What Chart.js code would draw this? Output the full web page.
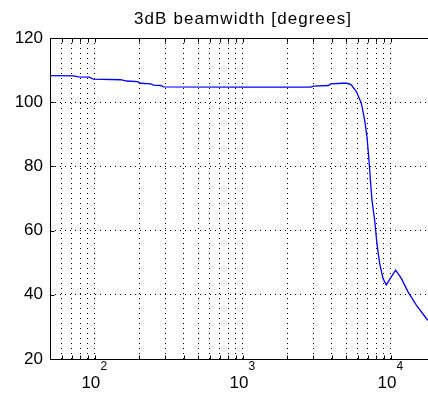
<!DOCTYPE html>
<html>
<head>
<meta charset="utf-8">
<script src="https://cdn.jsdelivr.net/npm/chart.js@4/dist/chart.umd.min.js"></script>
<style>
html,body{margin:0;padding:0;background:#fff;overflow:hidden;}
#wrap{width:428px;height:395px;position:relative;}
</style>
</head>
<body>
<div id="wrap"><canvas id="c"></canvas></div>
<script>
// ---- data ----
const titleText = "3dB beamwidth [degrees]";
const freqHz = [50, 72, 78, 92, 98, 150, 165, 195, 205, 240, 250, 280, 292, 1000, 2900, 3000, 3800, 3950, 4700, 5050, 5400, 5870, 6340, 6670, 6920, 7140, 7300, 7480, 7800, 8080, 8430, 8880, 9350, 9950, 10810, 11810, 13090, 14920, 17400, 17885];
const beamwidthDeg = [108.3, 108.2, 107.9, 107.8, 107.2, 107.0, 106.6, 106.4, 105.9, 105.7, 105.3, 105.2, 104.8, 104.7, 104.7, 105.0, 105.2, 105.7, 105.9, 105.9, 105.5, 103.3, 99.7, 94.5, 89.3, 82.0, 75.8, 69.5, 63.3, 56.0, 49.8, 45.1, 43.1, 45.1, 47.7, 45.1, 41.0, 36.8, 32.7, 32.0];
const xGridTicks = [50, 60, 70, 80, 90, 100, 200, 300, 400, 500, 600, 700, 800, 900, 1000, 2000, 3000, 4000, 5000, 6000, 7000, 8000, 9000, 10000];
const xMajorTicks = [100, 1000, 10000];
const xMajorExponents = ["2", "3", "4"];
const yTicks = [20, 40, 60, 80, 100, 120];
const xMin = 50, xMax = 17885, yMin = 20, yMax = 120;

const FONT = '"Liberation Sans", Arial, Helvetica, sans-serif';

const decor = {
  id: 'decor',
  afterDraw(chart) {
    const ctx = chart.ctx, a = chart.chartArea;
    const xs = chart.scales.x, ys = chart.scales.y;
    ctx.save();
    ctx.strokeStyle = '#000';
    ctx.lineWidth = 1;
    ctx.setLineDash([]);
    const L = Math.round(a.left) + 0.5, T = Math.round(a.top) + 0.5, B = Math.round(a.bottom) + 0.5, R = a.right + 2;
    ctx.beginPath();
    ctx.moveTo(R, T); ctx.lineTo(L, T); ctx.lineTo(L, B); ctx.lineTo(R, B);
    ctx.stroke();
    // inside tick marks
    ctx.beginPath();
    xGridTicks.forEach(v => {
      const px = Math.round(xs.getPixelForValue(v)) + 0.5;
      ctx.moveTo(px, B); ctx.lineTo(px, B - 4);
      ctx.moveTo(px, T); ctx.lineTo(px, T + 4);
    });
    yTicks.forEach(v => {
      const py = Math.round(ys.getPixelForValue(v)) + 0.5;
      ctx.moveTo(L, py); ctx.lineTo(L + 4, py);
    });
    ctx.stroke();
    // x labels 10^n
    ctx.fillStyle = '#000';
    xMajorTicks.forEach((v, i) => {
      const px = xs.getPixelForValue(v);
      ctx.font = '17px ' + FONT;
      ctx.textAlign = 'center';
      ctx.textBaseline = 'alphabetic';
      ctx.fillText('10', px - 3.7, 388);
      ctx.font = '12px ' + FONT;
      ctx.textAlign = 'left';
      ctx.fillText(xMajorExponents[i], px + 6, 370);
    });
    // title
    ctx.font = '17px ' + FONT;
    ctx.textBaseline = 'alphabetic';
    ctx.textAlign = 'left';
    try { ctx.letterSpacing = '1.1px'; } catch (e) {}
    const w = ctx.measureText(titleText).width;
    ctx.fillText(titleText, 242.5 - w / 2 + 0.55, 24);
    ctx.restore();
  }
};

new Chart(document.getElementById('c'), {
  type: 'line',
  data: {
    datasets: [{
      data: freqHz.map((f, i) => ({x: f, y: beamwidthDeg[i]})),
      borderColor: '#0000ff',
      borderWidth: 1.3,
      pointRadius: 0,
      tension: 0,
      fill: false
    }]
  },
  options: {
    responsive: true,
    maintainAspectRatio: false,
    animation: false,
    devicePixelRatio: 1,
    layout: {padding: {top: 38, left: 0, right: 0, bottom: 0}},
    plugins: {legend: {display: false}, title: {display: false}, tooltip: {enabled: false}},
    scales: {
      x: {
        type: 'logarithmic',
        min: xMin, max: xMax,
        afterBuildTicks: s => { s.ticks = xGridTicks.map(v => ({value: v})); },
        afterFit: s => { s.height = 36; },
        ticks: {display: false},
        grid: {display: true, color: '#000', lineWidth: 1, drawTicks: false},
        border: {display: false, dash: [1, 4]}
      },
      y: {
        min: yMin, max: yMax,
        afterBuildTicks: s => { s.ticks = yTicks.map(v => ({value: v})); },
        afterFit: s => { s.width = 50; },
        ticks: {color: '#000', padding: 7, font: {family: FONT, size: 17}},
        grid: {display: true, color: '#000', lineWidth: 1, drawTicks: false},
        border: {display: false, dash: [1, 4]}
      }
    }
  },
  plugins: [decor]
});
</script>
</body>
</html>
